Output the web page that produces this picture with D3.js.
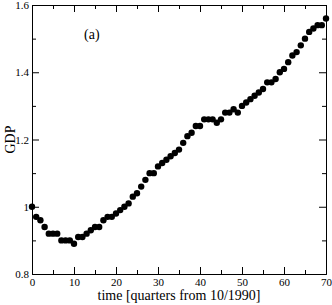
<!DOCTYPE html>
<html>
<head>
<meta charset="utf-8">
<script src="https://cdn.jsdelivr.net/npm/d3@7"></script>
<style>
  body { margin: 0; background: #fff; }
  svg { display: block; font-family: "Liberation Serif", "DejaVu Serif", serif; }
  .axis path { stroke: #000; }
  .axis line { stroke: #000; }
  .axis text { fill: #000; font-size: 11px; font-family: "Liberation Serif", serif; }
</style>
</head>
<body>
<div id="chart"></div>
<script>
// quarters since 10/1990 and the GDP index for each
const quarters = d3.range(0, 71);
const gdp = [
  1.00, 0.97, 0.96, 0.94, 0.92, 0.92, 0.92, 0.90, 0.90, 0.90,
  0.89, 0.91, 0.91, 0.92, 0.93, 0.94, 0.94, 0.96, 0.97, 0.97,
  0.98, 0.99, 1.00, 1.01, 1.03, 1.04, 1.06, 1.08, 1.10, 1.10,
  1.12, 1.13, 1.14, 1.15, 1.16, 1.17, 1.19, 1.21, 1.22, 1.24,
  1.24, 1.26, 1.26, 1.26, 1.25, 1.26, 1.28, 1.28, 1.29, 1.28,
  1.30, 1.31, 1.32, 1.33, 1.34, 1.35, 1.37, 1.37, 1.38, 1.40,
  1.41, 1.43, 1.45, 1.46, 1.48, 1.50, 1.52, 1.53, 1.54, 1.54,
  1.56
];
const xTicks = [0, 10, 20, 30, 40, 50, 60, 70];
const xMinor = [5, 15, 25, 35, 45, 55, 65];
const yTicks = [0.8, 1.0, 1.2, 1.4, 1.6];
const yMinor = [0.9, 1.1, 1.3, 1.5];

const W = 332, H = 305;
const margin = { top: 5, right: 6, bottom: 31, left: 32 };
const w = W - margin.left - margin.right;
const h = H - margin.top - margin.bottom;

const svg = d3.select("#chart").append("svg")
  .attr("width", W)
  .attr("height", H);

const g = svg.append("g")
  .attr("transform", `translate(${margin.left},${margin.top})`);

const x = d3.scaleLinear().domain([0, 70]).range([0, w]);
const y = d3.scaleLinear().domain([0.8, 1.6]).range([h, 0]);

const fmtY = (d) => (d === 1 ? "1" : d3.format(".1f")(d));

// bottom + top axes, ticks pointing inward
g.append("g").attr("class", "axis")
  .attr("transform", `translate(0,${h})`)
  .call(d3.axisBottom(x).tickValues(xTicks).tickSize(-7).tickPadding(4).tickSizeOuter(0));
g.append("g").attr("class", "axis")
  .attr("transform", `translate(0,${h})`)
  .call(d3.axisBottom(x).tickValues(xMinor).tickSize(-4).tickFormat("").tickSizeOuter(0));
g.append("g").attr("class", "axis")
  .call(d3.axisTop(x).tickValues(xTicks).tickSize(-7).tickFormat("").tickSizeOuter(0));
g.append("g").attr("class", "axis")
  .call(d3.axisTop(x).tickValues(xMinor).tickSize(-4).tickFormat("").tickSizeOuter(0));

// left + right axes
g.append("g").attr("class", "axis")
  .call(d3.axisLeft(y).tickValues(yTicks).tickSize(-7).tickPadding(3).tickFormat(fmtY).tickSizeOuter(0));
g.append("g").attr("class", "axis")
  .call(d3.axisLeft(y).tickValues(yMinor).tickSize(-4).tickFormat("").tickSizeOuter(0));
g.append("g").attr("class", "axis")
  .attr("transform", `translate(${w},0)`)
  .call(d3.axisRight(y).tickValues(yTicks).tickSize(-7).tickFormat("").tickSizeOuter(0));
g.append("g").attr("class", "axis")
  .attr("transform", `translate(${w},0)`)
  .call(d3.axisRight(y).tickValues(yMinor).tickSize(-4).tickFormat("").tickSizeOuter(0));

// data points
g.selectAll("circle.pt")
  .data(quarters)
  .enter()
  .append("circle")
  .attr("class", "pt")
  .attr("cx", (d) => x(d))
  .attr("cy", (d, i) => y(gdp[i]))
  .attr("r", 3.2)
  .attr("fill", "#000");

// labels
g.append("text")
  .attr("x", 52)
  .attr("y", 34)
  .attr("font-size", 14)
  .text("(a)");

svg.append("text")
  .attr("x", margin.left + w / 2)
  .attr("y", H - 5)
  .attr("text-anchor", "middle")
  .attr("font-size", 14)
  .text("time [quarters from 10/1990]");

svg.append("text")
  .attr("transform", `translate(15,${margin.top + h / 2}) rotate(-90)`)
  .attr("text-anchor", "middle")
  .attr("font-size", 14)
  .text("GDP");
</script>
</body>
</html>
